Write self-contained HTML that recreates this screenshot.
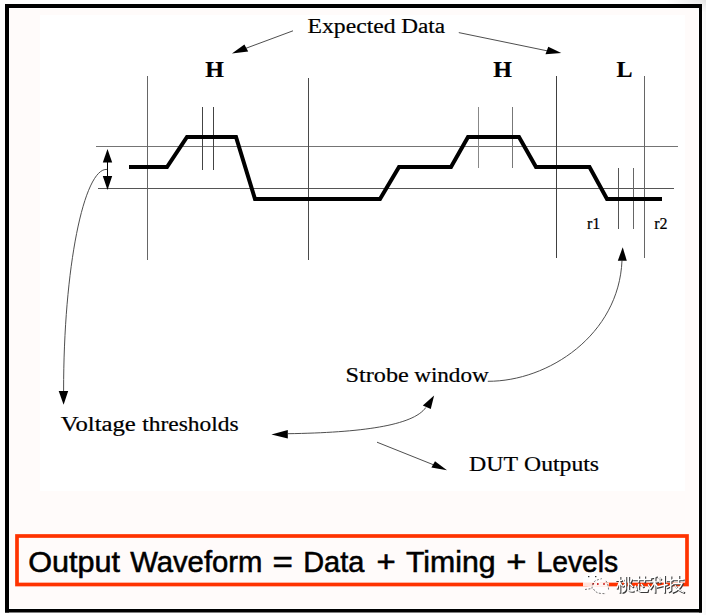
<!DOCTYPE html>
<html><head><meta charset="utf-8"><style>
html,body{margin:0;padding:0;background:#fff;width:706px;height:615px;overflow:hidden}
svg{display:block;position:absolute;left:0;top:0}
.s{font-family:"Liberation Serif",serif;fill:#000;stroke:#000;stroke-width:0.2px}
.b{font-family:"Liberation Sans",sans-serif;fill:#000;stroke:#000;stroke-width:0.55px}
</style></head><body>
<svg width="706" height="615" viewBox="0 0 706 615">
<defs><radialGradient id="sh" cx="0.5" cy="0.5" r="0.5"><stop offset="0" stop-color="#000" stop-opacity="0.09"/><stop offset="1" stop-color="#000" stop-opacity="0"/></radialGradient>
<linearGradient id="sh2" x1="0" x2="1" y1="0" y2="0"><stop offset="0" stop-color="#000" stop-opacity="0"/><stop offset="1" stop-color="#000" stop-opacity="0.03"/></linearGradient></defs>
<ellipse cx="704" cy="0" rx="40" ry="12" fill="url(#sh)"/>
<rect x="702" y="0" width="4" height="615" fill="url(#sh2)"/>
<!-- slide background -->
<rect x="10" y="9" width="688" height="599" fill="#fffbfa"/>
<rect x="40" y="15" width="645" height="476" fill="#ffffff"/>
<!-- outer border -->
<rect x="5" y="4" width="4" height="608.5" fill="#000"/>
<rect x="5" y="4" width="697" height="4" fill="#000"/>
<rect x="699" y="4" width="3" height="608.5" fill="#000"/>
<rect x="5" y="609" width="697" height="3.5" fill="#000"/>

<!-- threshold lines -->
<g stroke="#555" stroke-width="1" fill="none" shape-rendering="crispEdges">
<line x1="96" y1="146.5" x2="678" y2="146.5" stroke="#747474"/>
<line x1="98" y1="188.5" x2="674" y2="188.5" stroke="#555"/>
<!-- long verticals -->
<line x1="147.5" y1="76" x2="147.5" y2="260" stroke="#666"/>
<line x1="308.5" y1="78" x2="308.5" y2="260" stroke="#4a4a4a"/>
<line x1="556.5" y1="76" x2="556.5" y2="258" stroke="#404040"/>
<line x1="644.5" y1="76" x2="644.5" y2="258" stroke="#666"/>
<!-- short verticals -->
<line x1="202.5" y1="106.5" x2="202.5" y2="170" stroke="#444"/>
<line x1="213.5" y1="106.5" x2="213.5" y2="170" stroke="#444"/>
<line x1="478.5" y1="106.7" x2="478.5" y2="168" stroke="#888"/>
<line x1="512.5" y1="106.7" x2="512.5" y2="168" stroke="#777"/>
<line x1="618.5" y1="167.5" x2="618.5" y2="228.5" stroke="#555"/>
<line x1="633.5" y1="167.5" x2="633.5" y2="228.5" stroke="#666"/>
</g>

<!-- waveform -->
<path d="M129,167 L167,167 L187,137 L236,137 L255,199 L380,199 L399,167 L451,167 L468,137 L519,137 L536,167 L589.5,167 L607,199 L662,199" fill="none" stroke="#000" stroke-width="4" stroke-linejoin="miter"/>

<!-- double arrow voltage -->
<g fill="#000">
<line x1="107.5" y1="160" x2="107.5" y2="178" stroke="#000" stroke-width="1"/>
<polygon points="107.5,149 102.8,162.5 112.2,162.5"/>
<polygon points="107.5,190 102.8,176 112.2,176"/>
</g>

<!-- curves and arrows -->
<g fill="none" stroke="#444" stroke-width="0.95">
<path d="M107.1,169.4 C83.9,167.5 63.5,268.1 63.6,391"/>
<path d="M293,30.8 L244,49"/>
<path d="M458.8,32.6 L548,51"/>
<path d="M487.8,381.3 C548.4,381.5 618.9,334.8 622,260.6"/>
<path d="M288,433.7 C360.7,432.6 413.1,425.7 425.8,407.5"/>
<path d="M377,442.2 L434,465"/>
</g>
<g fill="#000">
<polygon points="63.6,404.7 58.7,391 68.2,391"/>
<polygon points="231.9,53.5 244.4,44.4 248.2,51.4"/>
<polygon points="561.3,53 548.3,46.8 545.5,54.2"/>
<polygon points="622.7,247.3 617.8,260.7 626.8,260.7"/>
<polygon points="271.4,434.4 287.8,430.1 287.8,438.4"/>
<polygon points="434.1,395.5 422.8,405.5 430.8,409.1"/>
<polygon points="447,470.2 435,461.2 431.4,467.5"/>
</g>

<!-- labels -->
<text class="s" x="307.60" y="33.30" font-size="20" textLength="87.94" lengthAdjust="spacingAndGlyphs">Expected</text>
<text class="s" x="401.20" y="33.30" font-size="20" textLength="43.82" lengthAdjust="spacingAndGlyphs">Data</text>
<text class="s" x="205.30" y="76.80" font-size="24" font-weight="bold">H</text>
<text class="s" x="493.15" y="76.80" font-size="24" font-weight="bold">H</text>
<text class="s" x="616.40" y="76.80" font-size="24" font-weight="bold">L</text>
<text class="s" x="587.00" y="228.80" font-size="16">r1</text>
<text class="s" x="654.20" y="228.80" font-size="16">r2</text>
<text class="s" x="345.60" y="381.50" font-size="20" textLength="63.25" lengthAdjust="spacingAndGlyphs">Strobe</text>
<text class="s" x="414.20" y="381.50" font-size="20" textLength="74.52" lengthAdjust="spacingAndGlyphs">window</text>
<text class="s" x="60.80" y="430.80" font-size="20" textLength="75.01" lengthAdjust="spacingAndGlyphs">Voltage</text>
<text class="s" x="142.20" y="430.80" font-size="20" textLength="96.42" lengthAdjust="spacingAndGlyphs">thresholds</text>
<text class="s" x="469.00" y="471.00" font-size="20" textLength="49.00" lengthAdjust="spacingAndGlyphs">DUT</text>
<text class="s" x="524.10" y="471.00" font-size="20" textLength="74.93" lengthAdjust="spacingAndGlyphs">Outputs</text>

<!-- bottom box -->
<rect x="17" y="536" width="670" height="48.5" fill="none" stroke="#ff3300" stroke-width="3.7"/>
<text class="b" x="28.20" y="572.00" font-size="30" textLength="91.84" lengthAdjust="spacingAndGlyphs">Output</text>
<text class="b" x="130.20" y="572.00" font-size="30" textLength="132.22" lengthAdjust="spacingAndGlyphs">Waveform</text>
<text class="b" x="272.60" y="572.00" font-size="30" textLength="20.37" lengthAdjust="spacingAndGlyphs">=</text>
<text class="b" x="303.20" y="572.00" font-size="30" textLength="61.06" lengthAdjust="spacingAndGlyphs">Data</text>
<text class="b" x="376.60" y="572.00" font-size="30" textLength="19.19" lengthAdjust="spacingAndGlyphs">+</text>
<text class="b" x="406.00" y="572.00" font-size="30" textLength="89.64" lengthAdjust="spacingAndGlyphs">Timing</text>
<text class="b" x="506.20" y="572.00" font-size="30" textLength="20.27" lengthAdjust="spacingAndGlyphs">+</text>
<text class="b" x="536.40" y="572.00" font-size="30" textLength="81.83" lengthAdjust="spacingAndGlyphs">Levels</text>
<!-- watermark -->
<g id="wm">
<ellipse cx="591.5" cy="580" rx="9" ry="7" fill="#fff"/><rect x="583" y="582.5" width="26" height="4" fill="#ffe3dc"/><ellipse cx="600.5" cy="587.5" rx="7.5" ry="6" fill="#fff" fill-opacity="0.6"/>
<g fill="#c80000">
<rect x="592.5" y="583" width="1.5" height="1.5"/><rect x="597" y="583.2" width="1.6" height="1.6"/><rect x="603.2" y="583.2" width="1.6" height="1.6"/>
</g>
<g fill="none" stroke="#555" stroke-width="0.8" stroke-dasharray="2 1.5">
<path d="M585,589.5 L592,588.5 C592,586 593,581.5 596,580.5 C598,579.5 601,579 602,578.5"/>
<path d="M593.5,589 C595,592 598,593.5 602,593.5 L606,593.8 M608.5,589.5 C608.5,586 607.5,582 605.5,580.5"/>
</g>
<g fill="#333"><rect x="588" y="576" width="1.4" height="1.2"/><rect x="595" y="576" width="1.4" height="1.2"/></g>
<g fill="none" stroke-linecap="square" stroke-width="1.3">

</g>
<path transform="translate(0.8,0.8)" stroke="#3a3a3a" stroke-width="1.8" fill="none" stroke-linecap="square" d="M616.5,580.3 L621.5,580.3 M619.7,577 L619.7,592 M619.5,581.5 L617,588 M620.3,583 L621.8,585.5 M625.6,577 L625.6,589 C625.4,590.5 624.3,591.5 622.5,592 M628.5,577 L628.5,590 C628.8,591 630.5,591.3 633,591 M623.5,580 L624.3,582.5 M631.5,579.5 L630.3,582 M623,586 L624.8,584.5 M630,584 L632.5,586.5
M633.5,579.5 L650.5,579.5 M638.5,576.5 L638.5,581.5 M644.5,576.5 L644.5,581.5 M635.5,586 L636.5,589.5 M638.5,584.5 L638.5,590 C639,591.5 641,591.5 647,591.3 L647.5,589.5 M641.5,584.5 L643,586.5 M648.5,585 L650,587.5
M650.5,578 L656,576.5 M650,581.9 L657,581.9 M654.8,577 L654.8,592 M654.5,582.5 L650.5,588.5 M655,583.5 L657,586 M659,577.5 L660.5,579 M658.5,581 L660,582.5 M657,587 L667,584.5 M664.4,576 L664.4,592
M667,580.5 L672,580.5 M670.7,576.5 L670.7,590.5 L669,591.5 M667,587.5 L672.5,584.5 M672.5,579.6 L683,579.6 M678.6,576 L678.6,582 M673.5,583.5 L682,583.5 C680.5,587 677,590.5 672.8,592 M675.5,586 C677,588.5 680,591 683.5,592"/>
<path stroke="#fff" stroke-width="1.3" fill="none" stroke-linecap="square" d="M616.5,580.3 L621.5,580.3 M619.7,577 L619.7,592 M619.5,581.5 L617,588 M620.3,583 L621.8,585.5 M625.6,577 L625.6,589 C625.4,590.5 624.3,591.5 622.5,592 M628.5,577 L628.5,590 C628.8,591 630.5,591.3 633,591 M623.5,580 L624.3,582.5 M631.5,579.5 L630.3,582 M623,586 L624.8,584.5 M630,584 L632.5,586.5
M633.5,579.5 L650.5,579.5 M638.5,576.5 L638.5,581.5 M644.5,576.5 L644.5,581.5 M635.5,586 L636.5,589.5 M638.5,584.5 L638.5,590 C639,591.5 641,591.5 647,591.3 L647.5,589.5 M641.5,584.5 L643,586.5 M648.5,585 L650,587.5
M650.5,578 L656,576.5 M650,581.9 L657,581.9 M654.8,577 L654.8,592 M654.5,582.5 L650.5,588.5 M655,583.5 L657,586 M659,577.5 L660.5,579 M658.5,581 L660,582.5 M657,587 L667,584.5 M664.4,576 L664.4,592
M667,580.5 L672,580.5 M670.7,576.5 L670.7,590.5 L669,591.5 M667,587.5 L672.5,584.5 M672.5,579.6 L683,579.6 M678.6,576 L678.6,582 M673.5,583.5 L682,583.5 C680.5,587 677,590.5 672.8,592 M675.5,586 C677,588.5 680,591 683.5,592"/>
</g>
</svg>
</body></html>
